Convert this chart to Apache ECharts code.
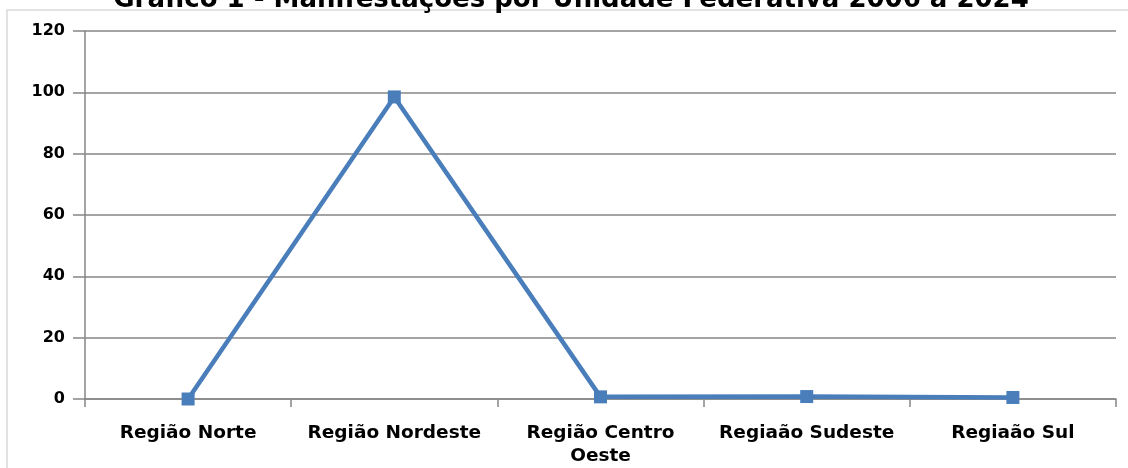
<!DOCTYPE html>
<html>
<head>
<meta charset="utf-8">
<script src="https://cdn.jsdelivr.net/npm/echarts@6/dist/echarts.min.js"></script>
<style>
html,body{margin:0;padding:0;background:#fff;}
#c{width:1128px;height:468px;}
</style>
</head>
<body>
<div id="c"></div>
<script>
const titleText = 'Gráfico 1 - Manifestações por Unidade Federativa 2006 a 2024';
const categories = ['Região Norte', 'Região Nordeste', 'Região Centro\nOeste', 'Regiaão Sudeste', 'Regiaão Sul'];
const values = [0, 98.5, 0.7, 0.8, 0.5];
const yTicks = { min: 0, max: 120, interval: 20 };

const chart = echarts.init(document.getElementById('c'), null, { renderer: 'canvas' });
const font = 'DejaVu Sans, sans-serif';
chart.setOption({
  animation: false,
  backgroundColor: '#ffffff',
  title: {
    text: titleText,
    left: 566,
    textAlign: 'center',
    top: -18,
    textStyle: { fontFamily: font, fontWeight: 'bold', fontSize: 26, color: '#000' }
  },
  graphic: [{
    type: 'rect',
    shape: { x: 7, y: 10, width: 1140, height: 480 },
    style: { fill: 'none', stroke: '#d9d9d9', lineWidth: 1.5 },
    silent: true, z: -1
  }],
  grid: { left: 85, right: 12, top: 31, bottom: 69, containLabel: false },
  xAxis: {
    type: 'category',
    data: categories,
    boundaryGap: true,
    axisLine: { lineStyle: { color: '#868686', width: 1.5 } },
    axisTick: { show: true, length: 8, inside: false, alignWithLabel: false, lineStyle: { color: '#868686', width: 1.5 } },
    axisLabel: { fontFamily: font, fontWeight: 'bold', fontSize: 18.5, color: '#000', margin: 23, interval: 0, lineHeight: 23 },
    splitLine: { show: false }
  },
  yAxis: {
    type: 'value',
    min: yTicks.min, max: yTicks.max, interval: yTicks.interval,
    axisLine: { show: true, lineStyle: { color: '#868686', width: 1.5 } },
    axisTick: { show: true, length: 12, lineStyle: { color: '#868686', width: 1.5 } },
    axisLabel: { fontFamily: font, fontWeight: 'bold', fontSize: 16, color: '#000', margin: 20 },
    splitLine: { show: true, lineStyle: { color: '#868686', width: 1.5 } }
  },
  series: [{
    type: 'line',
    data: values,
    symbol: 'rect',
    symbolSize: 13,
    itemStyle: { color: '#4a7ebb' },
    lineStyle: { color: '#4a7ebb', width: 4.5 },
    z: 3
  }]
});
</script>
</body>
</html>
